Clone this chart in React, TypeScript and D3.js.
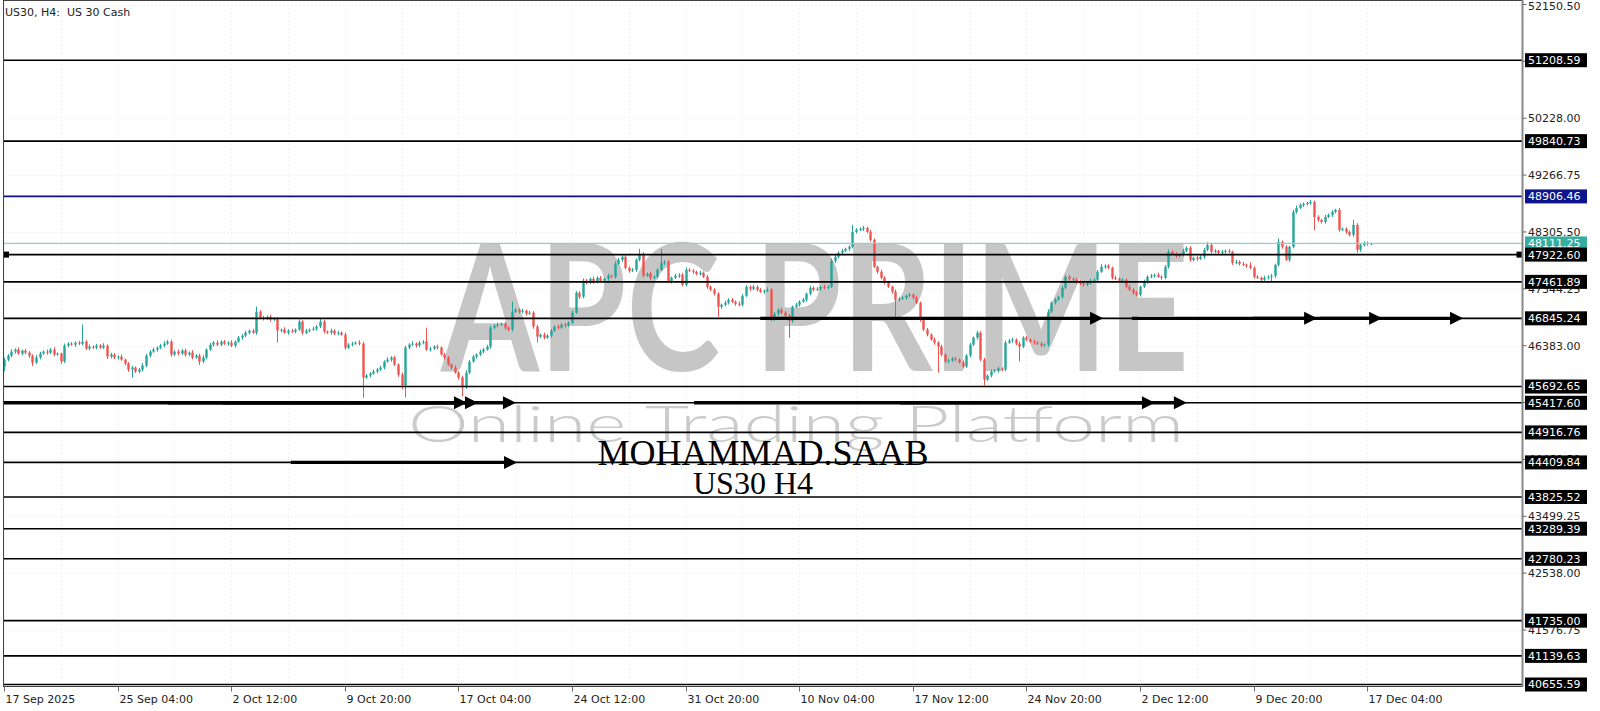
import React from 'react';
import * as d3 from 'd3';

const W = 1600;
const H = 711;

// ---- candle data (US30 H4), closes ----
const firstOpen = 46030;
const closes = [
  46148,46216,46283,46317,46250,46300,46266,46216,46098,46182,46250,46283,46266,46317,46233,46250,46115,46384,46418,46401,
  46435,46418,46452,46334,46367,46351,46384,46351,46384,46199,46233,46182,46199,46148,46081,45980,46013,45946,45980,46047,
  46216,46283,46317,46351,46384,46418,46452,46233,46283,46250,46300,46233,46266,46182,46216,46115,46182,46317,46401,46435,
  46401,46452,46418,46435,46384,46452,46519,46553,46603,46637,46603,46958,46856,46839,46873,46823,46839,46637,46654,46603,
  46637,46620,46654,46789,46603,46637,46654,46671,46705,46789,46620,46603,46637,46587,46603,46570,46351,46401,46418,46435,
  46418,45845,45879,45912,45946,45980,46013,46115,46148,46182,46064,45895,45710,46351,46401,46418,46384,46435,46452,46317,
  46334,46367,46351,46233,46182,46064,46013,45929,45845,45676,45929,46115,46199,46233,46283,46317,46367,46688,46721,46738,
  46755,46688,46654,46958,46991,46958,46974,46924,46941,46705,46536,46570,46519,46553,46637,46705,46688,46738,46721,46772,
  46941,47278,47210,47480,47447,47514,47464,47531,47480,47514,47565,47548,47767,47834,47885,47700,47649,47666,47834,47936,
  47565,47598,47531,47548,47666,47784,47801,47464,47531,47565,47581,47413,47666,47649,47632,47598,47615,47548,47379,47329,
  47261,47042,47075,47109,47160,47126,47092,47075,47227,47379,47345,47379,47329,47295,47312,47329,46823,46924,46991,46941,
  46890,46806,47042,47075,47126,47160,47261,47362,47329,47345,47379,47362,47379,47817,47885,47952,47986,48020,48054,48307,
  48340,48357,48374,48307,48172,47716,47632,47531,47447,47379,47295,47160,47177,47194,47227,47244,47194,47109,46823,46654,
  46570,46486,46435,46367,46233,46115,46131,46165,46148,46098,46030,46216,46401,46519,46603,46148,45811,45879,45946,45963,
  45997,45980,46435,46469,46486,46418,46367,46519,46486,46452,46435,46418,46384,46401,46958,47109,47160,47210,47362,47548,
  47514,47497,47464,47430,47413,47447,47480,47497,47632,47716,47733,47700,47531,47514,47480,47497,47379,47329,47278,47244,
  47379,47464,47548,47565,47581,47548,47531,47716,47969,47936,47902,47919,47986,48037,47834,47868,47851,47885,48003,48087,
  47969,47986,47952,47969,47986,47969,47784,47801,47767,47750,47733,47700,47548,47531,47497,47531,47548,47565,47750,48138,
  48054,47834,48054,48644,48711,48762,48779,48795,48812,48559,48509,48475,48559,48593,48644,48677,48340,48357,48307,48256,
  48425,48003,48087,48121,48104,48111,
];
// wick lengths in points above the body top / below the body bottom
const upWick = [
  30,25,40,20,35,15,30,25,20,45,30,20,35,25,40,20,15,35,25,30,
  20,30,290,25,35,20,30,25,40,20,30,25,20,35,15,25,30,20,25,40,
  30,25,35,20,30,40,25,30,20,35,25,30,20,40,25,30,35,20,30,25,
  35,20,30,25,40,20,30,25,35,20,30,85,25,30,20,35,25,30,20,40,
  25,30,20,40,25,30,20,35,25,60,30,20,35,25,30,20,35,25,30,20,
  40,30,25,20,35,25,30,20,40,25,30,20,35,30,25,40,20,30,25,235,
  30,25,35,20,30,25,20,35,25,30,40,25,30,20,35,25,30,30,25,35,
  20,30,25,170,30,25,35,20,30,25,30,20,35,25,30,20,35,25,30,20,
  35,30,25,40,30,20,35,25,30,20,35,25,40,30,25,35,20,30,25,85,
  30,25,35,20,30,235,25,30,20,35,25,30,40,25,30,20,35,25,30,20,
  25,30,20,35,25,30,20,40,25,30,20,35,25,30,20,40,25,30,20,35,
  25,30,20,35,25,30,20,35,25,30,20,35,25,40,30,25,35,20,30,120,
  30,25,35,20,30,25,20,35,25,30,20,35,25,30,20,35,25,30,20,25,
  30,20,35,25,30,20,35,25,30,20,35,25,30,20,35,25,30,20,35,25,
  30,20,35,25,30,20,35,25,30,20,35,25,30,20,40,25,30,20,35,25,
  30,20,35,25,30,20,35,25,30,45,25,30,20,35,25,30,20,35,25,30,
  20,35,25,30,20,35,25,30,40,25,30,20,35,25,30,20,35,25,30,45,
  25,30,20,35,25,30,20,35,25,30,20,60,25,30,20,35,25,30,20,60,
  25,30,20,35,40,30,25,20,35,25,30,20,35,25,30,20,35,25,30,20,
  85,30,20,25,20,15,
];
const lowWick = [
  80,30,25,35,20,30,25,40,60,25,30,20,35,25,30,20,40,25,30,20,
  35,25,30,20,35,25,30,20,25,40,30,25,35,20,30,40,135,25,30,35,
  25,30,20,35,25,30,20,35,25,30,20,35,25,30,20,60,25,30,20,35,
  25,30,20,35,25,30,20,35,25,30,20,35,25,30,20,35,25,200,30,20,
  35,25,30,20,35,25,30,20,35,25,30,20,35,25,30,20,35,25,30,20,
  30,340,25,30,20,35,25,30,20,35,25,40,60,200,30,20,35,25,30,20,
  35,25,30,20,35,25,30,20,35,150,25,30,20,35,25,30,20,35,25,30,
  20,35,25,30,20,35,25,30,20,35,100,25,30,20,35,25,30,20,35,25,
  30,20,35,25,30,20,35,25,30,20,35,25,30,20,35,25,30,20,35,25,
  30,20,35,25,30,20,35,25,30,20,35,25,30,20,35,25,30,20,35,25,
  30,170,35,25,30,20,35,25,30,20,35,25,30,20,35,25,30,20,35,25,
  30,290,35,25,30,20,35,25,30,20,35,25,30,20,35,25,30,20,35,25,
  30,20,35,25,30,20,35,25,30,20,35,290,30,20,35,25,30,20,35,25,
  30,20,35,440,30,20,35,25,30,20,35,25,30,20,35,25,100,25,30,20,
  35,25,30,20,35,25,250,25,30,20,35,25,30,20,35,25,30,20,35,25,
  30,20,35,25,30,20,35,25,30,20,35,25,30,20,35,25,30,20,35,25,
  30,20,35,25,30,20,35,25,30,20,35,25,30,20,35,25,30,20,35,25,
  30,20,35,25,30,20,35,25,30,20,35,25,30,20,35,25,30,100,35,25,
  30,20,35,25,30,20,35,25,30,220,35,25,30,20,35,25,30,20,35,25,
  30,50,35,25,30,20,
];

// ---- axes ----
const timeLabels = [
  '17 Sep 2025', '25 Sep 04:00', '2 Oct 12:00', '9 Oct 20:00', '17 Oct 04:00', '24 Oct 12:00',
  '31 Oct 20:00', '10 Nov 04:00', '17 Nov 12:00', '24 Nov 20:00', '2 Dec 12:00', '9 Dec 20:00', '17 Dec 04:00',
];
const barsPerLabel = 32;
const priceTicks = [52150.5, 51189.25, 50228.0, 49266.75, 48305.5, 47344.25, 46383.0, 45421.75, 44460.5, 43499.25, 42538.0, 41576.75];

// ---- horizontal levels ----
const levels = [51208.59, 49840.73, 48906.46, 48111.25, 47922.6, 47461.89, 46845.24, 45692.65, 45417.6, 44916.76, 44409.84, 43825.52, 43289.39, 42780.23, 41735.0, 41139.63, 40655.59];
const navyLevel = 48906.46;
const bidLevel = 48111.25;
const selectedLevel = 47922.6;

// ---- arrows (price, from bar, to bar) ----
const arrowPrices = [45417.6, 45417.6, 45417.6, 45417.6, 45417.6, 46845.24, 46845.24, 46845.24, 46845.24, 44409.84];
const arrowFrom = [-0.3, 46.2, 61.4, 194.4, 252.4, 213, 317.7, 351.8, 370.7, 80.8];
const arrowTo = [130.4, 133.5, 144.2, 324.2, 333.2, 309.6, 369.9, 388.2, 411, 144.5];

const BULL = '#26a69a';
const BEAR = '#ef5350';
const FONT = 'DejaVu Sans, Verdana, sans-serif';

export default function App() {
  const left = 3.5;
  const right = 1522.5;
  const top = 0.5;
  const bottom = 686.5;

  const x = d3.scaleLinear().domain([0, 385]).range([4, 4 + 385 * 3.55]);
  const y = d3.scaleLinear().domain([40655.59, 52150.5]).range([684.5, 4.5]);

  const candles = closes.map((c, i) => {
    const o = i === 0 ? firstOpen : closes[i - 1];
    const hi = Math.max(o, c) + upWick[i];
    const lo = Math.min(o, c) - lowWick[i];
    return { i, o, c, hi, lo };
  });

  const gridX = d3.range(0, 400, 16);
  const headLen = 13;
  const headHalf = 6.5;

  return (
    <svg width={W} height={H} style={{ position: 'absolute', left: 0, top: 0, background: '#fff', display: 'block' }}>
      <rect x={0} y={0} width={W} height={H} fill="#fff" />
      {/* grid */}
      <g stroke="#e4e4e4" strokeWidth={1} strokeDasharray="1,3">
        {priceTicks.map((p) => (
          <line key={'gy' + p} x1={left} x2={right} y1={Math.round(y(p)) + 0.5} y2={Math.round(y(p)) + 0.5} />
        ))}
        {gridX.map((g) => (
          <line key={'gx' + g} x1={Math.round(x(g)) + 0.5} x2={Math.round(x(g)) + 0.5} y1={top} y2={bottom} />
        ))}
      </g>

      {/* watermark */}
      <text x={441} y={371} fontFamily="Lato, Inter, sans-serif" fontWeight={700} fontSize={176} fill="#c6c6c6"
        textLength={748} lengthAdjust="spacingAndGlyphs">APC PRIME</text>
      <text x={408} y={442} fontFamily="Lato, Inter, sans-serif" fontWeight={300} fontSize={52} fill="#cbcbcb"
        textLength={776} lengthAdjust="spacingAndGlyphs">Online Trading Platform</text>

      {/* candles */}
      <g>
        {candles.map((d) => {
          const cx = Math.round(x(d.i)) + 0.5;
          const col = d.c >= d.o ? BULL : BEAR;
          const yt = y(Math.max(d.o, d.c));
          const yb = y(Math.min(d.o, d.c));
          return (
            <g key={d.i}>
              <line x1={cx} x2={cx} y1={y(d.hi)} y2={y(d.lo)} stroke={col} strokeWidth={1} />
              <rect x={cx - 1.2} y={yt} width={2.4} height={Math.max(1, yb - yt)} fill={col} />
            </g>
          );
        })}
      </g>

      {/* levels */}
      {levels.map((p) => {
        const yy = y(p);
        const col = p === navyLevel ? '#101080' : p === bidLevel ? '#8fcfc8' : '#000';
        const sw = p === bidLevel ? 1.2 : 1.6;
        return <line key={'l' + p} x1={left} x2={right} y1={yy} y2={yy} stroke={col} strokeWidth={sw} />;
      })}
      <rect x={left - 0.5} y={y(selectedLevel) - 3} width={6} height={6} fill="#000" />
      <rect x={right - 6} y={y(selectedLevel) - 3} width={6} height={6} fill="#000" />

      {/* arrows */}
      {arrowPrices.map((p, k) => {
        const yy = y(p);
        const x1 = x(arrowFrom[k]);
        const x2 = x(arrowTo[k]);
        return (
          <g key={'a' + k}>
            <line x1={x1} x2={x2 - headLen + 1} y1={yy} y2={yy} stroke="#000" strokeWidth={3.4} />
            <path d={`M${x2},${yy} L${x2 - headLen},${yy - headHalf} L${x2 - headLen},${yy + headHalf} Z`} fill="#000" />
          </g>
        );
      })}

      {/* author text */}
      <text x={763} y={465} textAnchor="middle" fontFamily="Liberation Serif, Times New Roman, serif" fontSize={36} fill="#000">MOHAMMAD.SAAB</text>
      <text x={753} y={494} textAnchor="middle" fontFamily="Liberation Serif, Times New Roman, serif" fontSize={32} fill="#000">US30 H4</text>

      {/* frame */}
      <rect x={left} y={top} width={right - left} height={bottom - top} fill="none" stroke="#444" strokeWidth={1} />
      <line x1={right} x2={right} y1={0} y2={bottom} stroke="#888" strokeWidth={2} />

      {/* title */}
      <text x={5} y={16} fontFamily={FONT} fontSize={11} fill="#222" style={{ whiteSpace: 'pre' }}>{'US30, H4:  US 30 Cash'}</text>

      {/* price axis */}
      {priceTicks.map((p) => (
        <g key={'pt' + p}>
          <line x1={right} x2={right + 4} y1={y(p)} y2={y(p)} stroke="#666" />
          <text x={1528} y={Math.max(y(p), 6)} dy="0.36em" fontFamily={FONT} fontSize={11} fill="#222">{p.toFixed(2)}</text>
        </g>
      ))}
      {levels.map((p) => {
        const yy = y(p);
        const bg = p === navyLevel ? '#0d148c' : p === bidLevel ? '#35ad9f' : '#000';
        return (
          <g key={'pl' + p}>
            <rect x={1525} y={yy - 7} width={62} height={14} fill={bg} />
            <text x={1528} y={yy} dy="0.36em" fontFamily={FONT} fontSize={11} fill="#fff">{p.toFixed(2)}</text>
          </g>
        );
      })}

      {/* time axis */}
      {timeLabels.map((t, k) => {
        const tx = Math.round(x(k * barsPerLabel)) + 0.5;
        return (
          <g key={'tl' + k}>
            <line x1={tx} x2={tx} y1={bottom} y2={bottom + 5} stroke="#666" />
            <text x={tx + 1} y={703} fontFamily={FONT} fontSize={11} fill="#222">{t}</text>
          </g>
        );
      })}
    </svg>
  );
}
